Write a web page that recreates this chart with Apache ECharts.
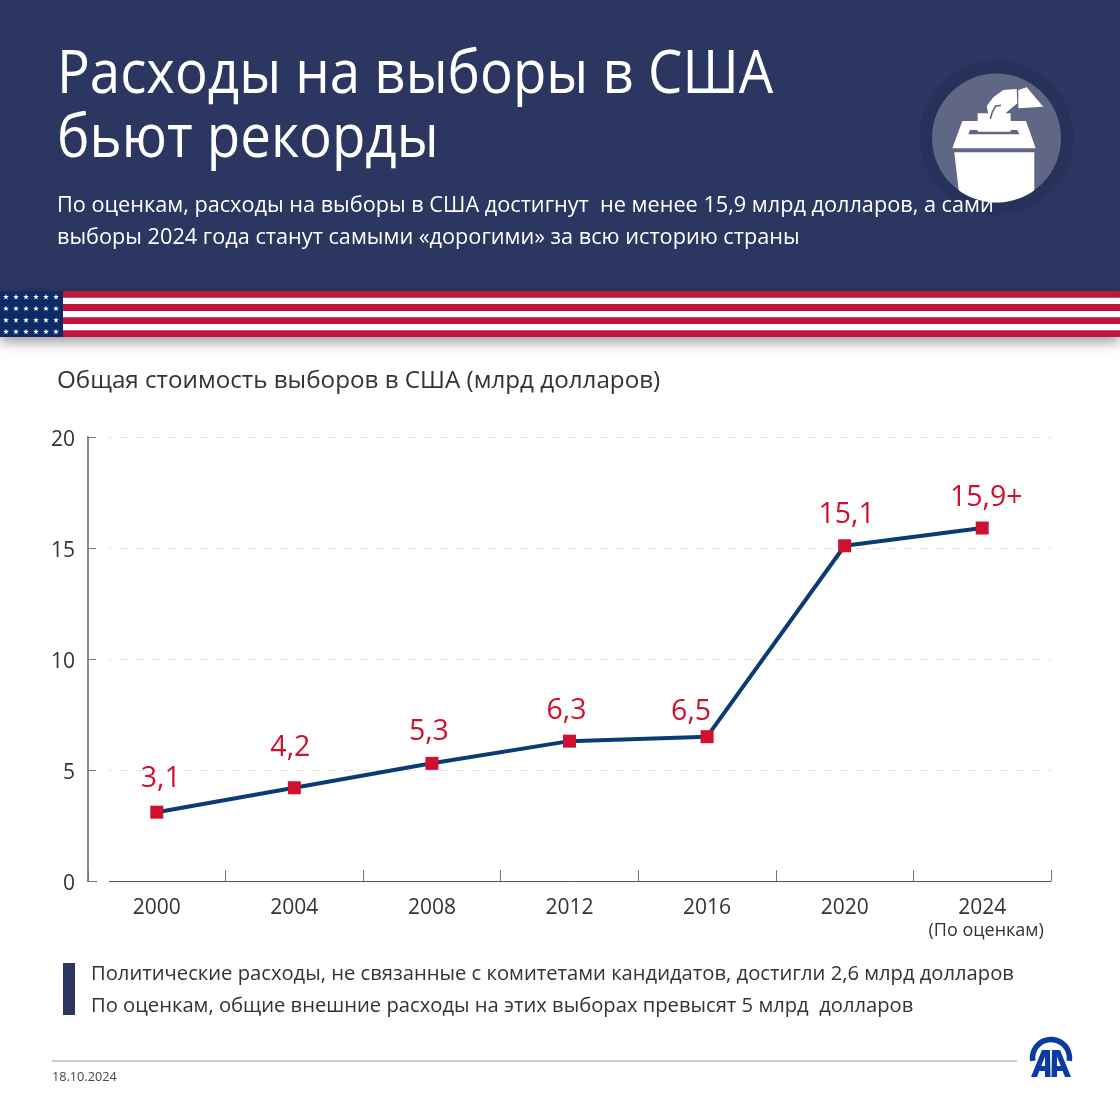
<!DOCTYPE html>
<html>
<head>
<meta charset="utf-8">
<title>Расходы на выборы в США</title>
<style>
  html, body { margin: 0; padding: 0; background: #fff; }
  #chart { width: 1120px; height: 1120px; }
</style>
</head>
<body>
<div id="chart"></div>
<script src="https://cdn.jsdelivr.net/npm/echarts@6/dist/echarts.min.js"></script>
<script>
const years = ['2000', '2004', '2008', '2012', '2016', '2020', '2024'];
const totals = [3.1, 4.2, 5.3, 6.3, 6.5, 15.1, 15.9];
const pointLabels = ['3,1', '4,2', '5,3', '6,3', '6,5', '15,1', '15,9+'];
const yearNote = '(По оценкам)';
const titleLines = ['Расходы на выборы в США', 'бьют рекорды'];
const subtitleLines = [
  'По оценкам, расходы на выборы в США достигнут  не менее 15,9 млрд долларов, а сами',
  'выборы 2024 года станут самыми «дорогими» за всю историю страны'
];
const chartTitle = 'Общая стоимость выборов в США (млрд долларов)';
const notes = [
  'Политические расходы, не связанные с комитетами кандидатов, достигли 2,6 млрд долларов',
  'По оценкам, общие внешние расходы на этих выборах превысят 5 млрд  долларов'
];
const dateText = '18.10.2024';

const font = '"Open Sans", "Noto Sans", sans-serif';
const navy = '#2b3760';

// flag stripes and stars
function flag() {
  const out = [];
  out.push({ type: 'rect', z: 1, shape: { x: 0, y: 291, width: 1120, height: 46 },
    style: { fill: '#fff', shadowBlur: 12, shadowOffsetY: 5, shadowColor: 'rgba(0,0,0,0.4)' } });
  for (let i = 0; i < 4; i++) {
    out.push({ type: 'rect', z: 2, shape: { x: 0, y: 291 + i * 13.1, width: 1120, height: 6.8 }, style: { fill: '#bd1640' } });
  }
  out.push({ type: 'rect', z: 3, shape: { x: 0, y: 291, width: 63, height: 46 }, style: { fill: '#0b2a66' } });
  for (let r = 0; r < 4; r++) {
    for (let c = 0; c < 6; c++) {
      const cx = 6 + c * 10, cy = 297 + r * 11.6, pts = [];
      for (let k = 0; k < 10; k++) {
        const a = -Math.PI / 2 + k * Math.PI / 5, rad = k % 2 ? 1.2 : 3;
        pts.push([cx + rad * Math.cos(a), cy + rad * Math.sin(a)]);
      }
      out.push({ type: 'polygon', z: 4, shape: { points: pts }, style: { fill: '#fff' } });
    }
  }
  return out;
}

// ballot box icon
function icon() {
  const grey = '#5f6785';
  const z = p => p.map(q => [900 + q[0] / 3, 50 + q[1] / 3]);
  const h = p => p.map(q => [975 + q[0] / 3, 80 + q[1] / 3]);
  const poly = (pts, fill) => ({ type: 'polygon', z: 5, shape: { points: pts }, style: { fill: fill || '#fff' } });
  const box = [[954.3, 152.3], [1034.3, 152.3]];
  const a0 = Math.asin((1034.3 - 996.5) / 64.5);
  for (let a = a0; a >= -a0 - 0.001; a -= a0 / 12) {
    box.push([996.5 + 64.5 * Math.sin(a), 138 + 64.5 * Math.cos(a)]);
  }
  return [
    { type: 'circle', z: 3, shape: { cx: 996.5, cy: 138, r: 77 }, style: { fill: '#27325a' } },
    { type: 'circle', z: 4, shape: { cx: 996.5, cy: 138, r: 64.5 }, style: { fill: grey } },
    poly(z([[157, 295], [187, 213], [378, 213], [407, 295]])),
    poly(z([[210, 240], [352, 240], [358, 253], [205, 253]]), grey),
    poly(z([[233, 190], [332, 190], [332, 245], [233, 245]])),
    poly(h([[35, 78], [55, 52], [85, 30], [125, 27], [127, 70], [100, 92], [62, 128], [48, 122], [40, 100]])),
    { type: 'polyline', z: 6, shape: { points: h([[78, 76], [62, 78], [52, 96], [46, 116]]) },
      style: { stroke: grey, fill: null, lineWidth: 1.6 } },
    poly(h([[130, 30], [155, 22], [205, 80], [130, 85]])),
    { type: 'polygon', z: 5, shape: { points: box }, style: { fill: '#fff' } }
  ];
}

function logo() {
  const c = '#0a3ba0';
  const parts = [
    [[1031, 1077], [1037, 1077], [1047.5, 1050], [1042, 1050]],
    [[1045, 1050], [1050, 1050], [1050.5, 1077], [1045, 1077]],
    [[1037, 1066], [1047, 1066], [1047, 1071], [1037, 1071]]
  ];
  const out = [
    { type: 'arc', z: 5, shape: { cx: 1051, cy: 1058, r: 18.5, startAngle: Math.PI * 0.95, endAngle: Math.PI * 2.05 },
      style: { stroke: c, fill: null, lineWidth: 5.5 } }
  ];
  parts.forEach(p => {
    out.push({ type: 'polygon', z: 5, shape: { points: p }, style: { fill: c } });
    out.push({ type: 'polygon', z: 5, shape: { points: p.map(q => [2102 - q[0], q[1]]) }, style: { fill: c } });
  });
  return out;
}

function txt(x, y, text, size, color, sx) {
  return { type: 'text', z: 6, x: x, y: y, scaleX: sx || 1,
    style: { text: text, fill: color, fontFamily: font, fontSize: size, textVerticalAlign: 'middle' } };
}

// small per-point shifts, the labels in the original are hand placed
const nudges = [[4, 1], [-4, -6], [-3, 3], [-3, 4], [-16, 9], [2, 3], [4, 4]];

const chart = echarts.init(document.getElementById('chart'));
chart.setOption({
  animation: false,
  backgroundColor: '#fff',
  grid: { left: 88, right: 69, top: 437, bottom: 239 },
  xAxis: {
    type: 'category',
    data: years,
    boundaryGap: true,
    axisLine: { lineStyle: { color: '#555', width: 1 } },
    axisTick: { show: true, inside: true, length: 11, interval: 0, lineStyle: { color: '#777' } },
    axisLabel: {
      color: '#333', fontFamily: font, fontSize: 21, margin: 15, lineHeight: 24, interval: 0,
      formatter: v => v === '2024' ? v + '\n{note|' + yearNote + '}' : v,
      rich: { note: { fontFamily: font, fontSize: 18, color: '#333', lineHeight: 22, padding: [0, 0, 0, 8] } }
    }
  },
  yAxis: {
    type: 'value',
    min: 0,
    max: 20,
    interval: 5,
    axisLine: { show: true, lineStyle: { color: '#888', width: 2 } },
    axisTick: { show: true, inside: true, length: 8, lineStyle: { color: '#777', width: 1 } },
    axisLabel: { color: '#333', fontFamily: font, fontSize: 21, margin: 13, verticalAlign: 'top', lineHeight: 6 },
    splitLine: { show: true, lineStyle: { color: '#e4e4e4', type: [9, 7], width: 1 } }
  },
  series: [{
    type: 'line',
    data: totals.map((v, i) => ({ value: v, label: { offset: nudges[i] } })),
    symbol: 'rect',
    symbolSize: 13,
    z: 3,
    lineStyle: { color: '#0b3b73', width: 4 },
    itemStyle: { color: '#d0102f' },
    label: {
      show: true,
      position: 'top',
      distance: 13,
      color: '#d0102f',
      fontFamily: font,
      fontSize: 28.5,
      formatter: p => pointLabels[p.dataIndex]
    }
  }],
  graphic: [
    { type: 'rect', z: 1, shape: { x: 0, y: 0, width: 1120, height: 291 }, style: { fill: navy } },
    ...flag(),
    ...icon(),
    txt(57, 76, titleLines[0], 60, '#fff', 0.91),
    txt(57, 140, titleLines[1], 60, '#fff', 0.91),
    txt(57, 206, subtitleLines[0], 21.7, '#fff'),
    txt(57, 238, subtitleLines[1], 21.7, '#fff'),
    txt(57, 381, chartTitle, 24.2, '#333'),
    { type: 'rect', z: 5, shape: { x: 63, y: 963, width: 12, height: 52 }, style: { fill: navy } },
    txt(91, 974, notes[0], 20.2, '#333'),
    txt(91, 1006, notes[1], 20.2, '#333'),
    { type: 'line', z: 5, shape: { x1: 52, y1: 1061, x2: 1017, y2: 1061 }, style: { stroke: '#999', lineWidth: 1.2 } },
    txt(52, 1077, dateText, 12.7, '#444'),
    ...logo(),
    // gap between the y axis ticks and the x axis / grid lines
    { type: 'rect', z: 2, shape: { x: 97, y: 430, width: 12, height: 456 }, style: { fill: '#fff' } }
  ]
});
window.addEventListener('resize', () => chart.resize());
</script>
</body>
</html>
